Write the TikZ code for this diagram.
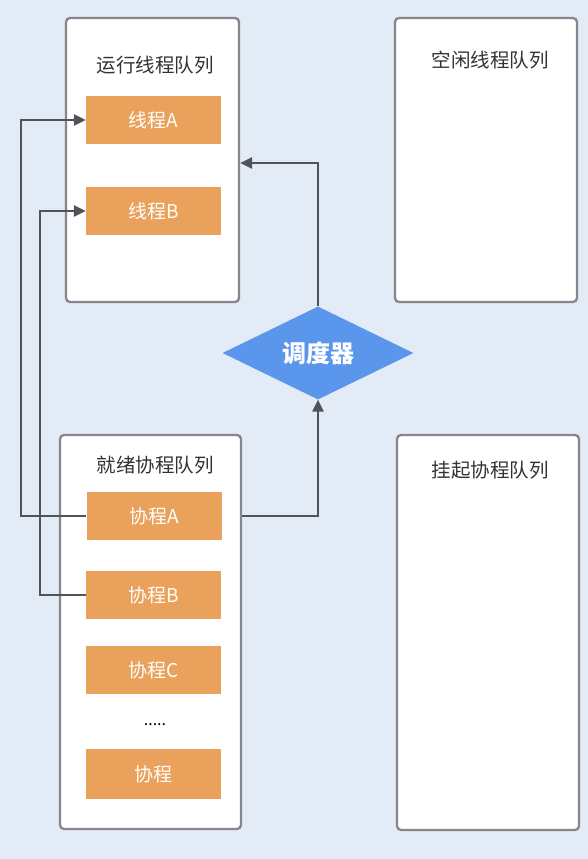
\documentclass[tikz,border=0pt]{standalone}
\usepackage{fontspec}
\setmainfont{Noto Sans CJK SC}
\usetikzlibrary{arrows.meta,shapes.geometric}
\definecolor{bgblue}{HTML}{E3EBF6}
\definecolor{boxgray}{HTML}{85878C}
\definecolor{taskorange}{HTML}{E9A15B}
\definecolor{schedblue}{HTML}{5A97EC}
\definecolor{linegray}{HTML}{505359}
\definecolor{titlegray}{HTML}{333333}
\begin{document}
\begin{tikzpicture}[x=1pt, y=-1pt, >={Triangle[length=12pt,width=11pt]},
    queue/.style={draw=boxgray, line width=2.3pt, fill=white, rounded corners=4pt},
    title/.style={text=titlegray, font=\fontsize{19.5}{23}\selectfont},
    task/.style={fill=taskorange, text=white, inner sep=0pt,
        minimum width=135pt, minimum height=48pt, font=\fontsize{19}{22}\selectfont},
    link/.style={draw=linegray, line width=2.5pt}]
    \fill[bgblue] (0,0) rectangle (588,859);

    % queues
    \node[queue, minimum width=173pt, minimum height=284pt] (run) at (152.5,160) {};
    \node[queue, minimum width=182pt, minimum height=284pt] (idle) at (486,160) {};
    \node[queue, minimum width=181pt, minimum height=394pt] (ready) at (150.5,632) {};
    \node[queue, minimum width=182pt, minimum height=395pt] (susp) at (488,632.5) {};

    \node[title] (runT) at (155,65) {运行线程队列};
    \node[title] (idleT) at (490,60) {空闲线程队列};
    \node[title] (readyT) at (155,465) {就绪协程队列};
    \node[title] (suspT) at (490,470) {挂起协程队列};

    % threads and coroutines
    \node[task] (thA) at (153.5,120) {线程A};
    \node[task] (thB) at (153.5,211) {线程B};
    \node[task] (coA) at (154,516) {协程A};
    \node[task] (coB) at (153.5,595) {协程B};
    \node[task] (coC) at (153.5,670) {协程C};
    \node[text=black, font=\fontsize{16}{20}\selectfont] (dots) at (155,725) {.....};
    \node[task, minimum height=50pt] (coN) at (153.5,774) {协程};

    % scheduler
    \node[diamond, fill=schedblue, text=white, inner sep=0pt, aspect=2.05,
        minimum width=191pt, minimum height=93pt,
        font=\fontsize{24}{28}\selectfont\bfseries] (sched) at (318,353) {调度器};

    \coordinate (railA) at (21,516);
    \coordinate (railB) at (40,595);
    \coordinate (hook) at (318,163);

    \draw[link, ->] (coA.west) -- (railA) |- (thA.west);
    \draw[link, ->] (coB.west) -- (railB) |- (thB.west);
    \draw[link, ->] (ready.east |- coA) -| (sched.south);
    \draw[link, ->] (sched.north) -- (hook) -- (run.east |- hook);
\end{tikzpicture}
\end{document}
